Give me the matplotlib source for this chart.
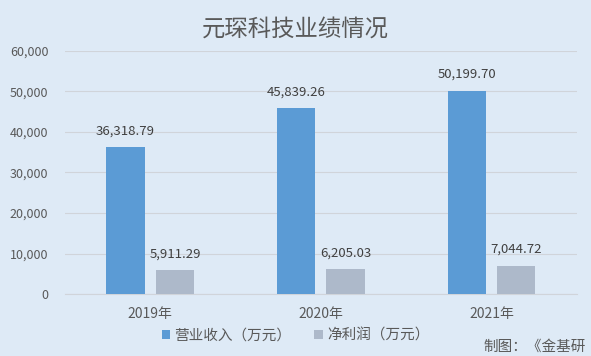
import matplotlib.pyplot as plt
import numpy as np

plt.rcParams['font.family'] = ['Noto Sans CJK SC', 'DejaVu Sans']

years = ["2019年", "2020年", "2021年"]
revenue = [36318.79, 45839.26, 50199.70]
profit = [5911.29, 6205.03, 7044.72]
series_names = ["营业收入（万元）", "净利润（万元）"]

bg = "#DEEAF6"
txt = "#595959"
clr_rev = "#5B9BD5"
clr_prof = "#ADB9CA"

fig = plt.figure(figsize=(5.91, 3.56), dpi=100, facecolor=bg)
ax = fig.add_axes([0.110, 0.174, 0.866, 0.683], facecolor=bg)

x = np.arange(len(years))
w = 0.225
off = 0.145
b1 = ax.bar(x - off, revenue, w, color=clr_rev, label=series_names[0], zorder=3)
b2 = ax.bar(x + off, profit, w, color=clr_prof, label=series_names[1], zorder=3)

for bars, vals in ((b1, revenue), (b2, profit)):
    for b, v in zip(bars, vals):
        ax.annotate(f"{v:,.2f}", (b.get_x() + b.get_width() / 2, v),
                    xytext=(0, 7), textcoords="offset points",
                    ha="center", va="bottom", fontsize=9.5, color="#404040")

ax.set_xlim(-0.5, 2.5)
ax.set_ylim(0, 60000)
ax.set_yticks(np.arange(0, 60001, 10000))
ax.set_yticklabels([f"{t:,}" for t in range(0, 60001, 10000)])
ax.set_xticks(x)
ax.set_xticklabels(years, fontsize=10)
ax.tick_params(axis="both", length=0, colors=txt)
ax.tick_params(axis="y", pad=12, labelsize=9)
ax.tick_params(axis="x", pad=9)
ax.grid(axis="y", color="#D0D4DA", linewidth=0.8, zorder=0)
for s in ("top", "right", "left"):
    ax.spines[s].set_visible(False)
ax.spines["bottom"].set_color("#D0D4DA")

fig.text(0.5, 0.918, "元琛科技业绩情况", ha="center", va="center",
         fontsize=16.8, color=txt)

fig.legend(loc="center", bbox_to_anchor=(0.5, 0.058), ncol=2, frameon=False,
           fontsize=10.5, handlelength=0.55, handleheight=0.55, handletextpad=0.3,
           columnspacing=1.6, labelcolor=txt)

fig.text(0.992, 0.027, "制图：《金基研", ha="right", va="center",
         fontsize=10.5, color=txt)

fig.savefig("out.png", dpi=100, facecolor=bg)
